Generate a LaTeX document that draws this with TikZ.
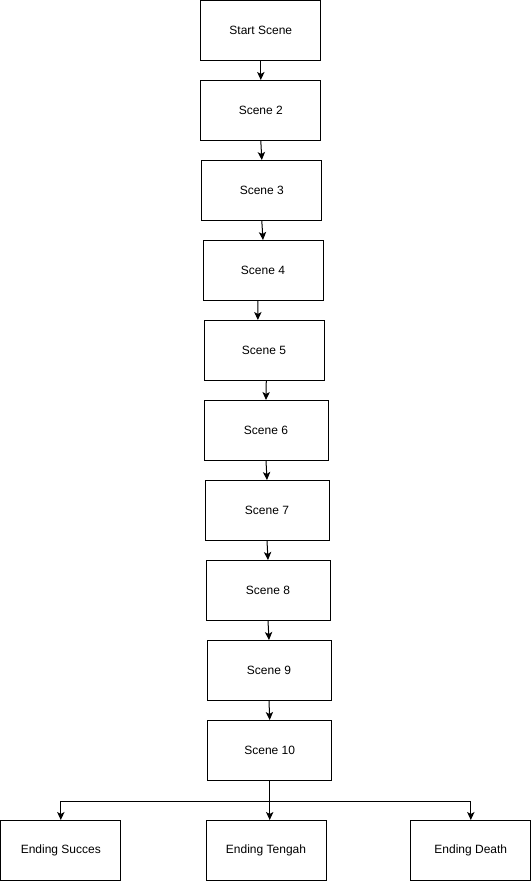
\documentclass[tikz,border=0pt]{standalone}
\usepackage{fontspec}
\setmainfont{Liberation Sans}
\usetikzlibrary{arrows.meta}
\begin{document}
\begin{tikzpicture}[x=0.75pt,y=-0.75pt,
  box/.style={draw=black, line width=0.75pt, fill=white, minimum height=45pt, minimum width=90pt, inner sep=0pt, font=\fontsize{9pt}{11pt}\selectfont},
  wbox/.style={box, minimum width=93pt},
  conn/.style={draw=black, line width=0.75pt, -{Stealth[length=6pt,width=5.5pt,inset=1.5pt]}}]
\useasboundingbox (-0.5,-0.5) rectangle (530.5,880.5);
\node[box]  (s1)  at (260.3,30)  {Start Scene};
\node[box]  (s2)  at (260.3,110) {Scene 2};
\node[box]  (s3)  at (261.3,190) {Scene 3};
\node[box]  (s4)  at (262.5,270) {Scene 4};
\node[box]  (s5)  at (263.5,350) {Scene 5};
\node[wbox] (s6)  at (265.5,430) {Scene 6};
\node[wbox] (s7)  at (266.5,510) {Scene 7};
\node[wbox] (s8)  at (267.5,590) {Scene 8};
\node[wbox] (s9)  at (268.5,670) {Scene 9};
\node[wbox] (s10) at (269.2,750) {Scene 10};
\node[box]  (e1)  at (60.3,850)  {Ending Succes};
\node[box]  (e2)  at (265.5,850) {Ending Tengah};
\node[box]  (e3)  at (470.3,850) {Ending Death};
\draw[conn] (s1.south) -- (s2.north);
\draw[conn] (s2.south) -- (s3.north);
\draw[conn] (s3.south) -- (s4.north);
\draw[conn] ([xshift=-3.9pt]s4.south) -- ([xshift=-4.6pt]s5.north);
\draw[conn] ([xshift=1.7pt]s5.south) -- (s6.north);
\draw[conn] (s6.south) -- (s7.north);
\draw[conn] (s7.south) -- (s8.north);
\draw[conn] (s8.south) -- (s9.north);
\draw[conn] (s9.south) -- (s10.north);
\coordinate (br) at ([yshift=-15pt]s10.south);
\draw[conn] (s10.south) -- (s10.south |- e2.north);
\draw[conn] (br) -| (e1.north);
\draw[conn] (br) -| (e3.north);
\end{tikzpicture}
\end{document}
